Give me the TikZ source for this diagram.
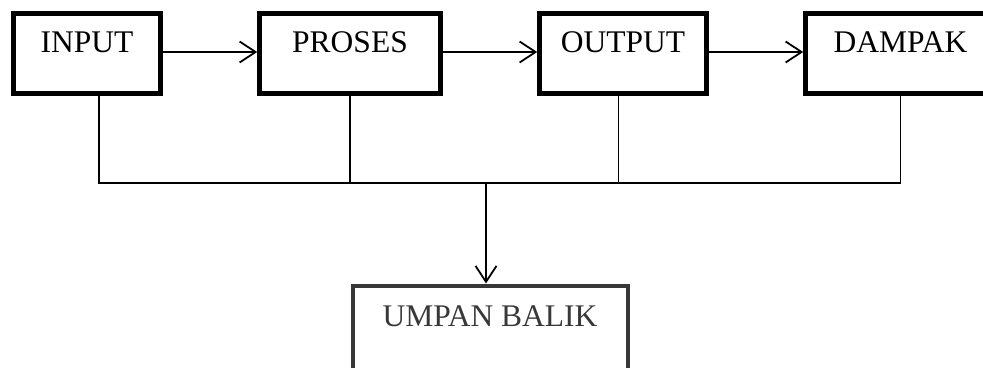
\documentclass[tikz,border=0pt]{standalone}
\usepackage{fontspec}
\setmainfont{Liberation Serif}
\usetikzlibrary{arrows.meta}
\definecolor{abutua}{HTML}{383838}

\begin{document}
\begin{tikzpicture}[x=1pt, y=-1pt, every node/.style={font=\fontsize{31.5}{38}\selectfont},
  blok/.style={draw, line width=4.5pt, inner sep=0pt, text height=38.5pt, text depth=41.5pt, anchor=base},
  garis/.style={line width=1.8pt},
  panah/.style={garis, -{Straight Barb[length=16pt,width=21pt]}}]
\useasboundingbox (0,0) rectangle (983,367);
\clip (0,0) rectangle (983,367);
\node[blok, minimum width=147pt] (inp) at (87,52) {INPUT};
\node[blok, minimum width=181pt] (pro) at (350,52) {PROSES};
\node[blok, minimum width=167pt] (out) at (623,52) {OUTPUT};
\node[blok, minimum width=190pt] (dam) at (900.5,52) {DAMPAK};
\node[blok, draw=abutua, text=abutua, line width=4pt, minimum width=275pt, text height=40.5pt, text depth=44pt] (ub) at (490,326) {UMPAN BALIK};
\draw[panah] (inp.base east) -- (pro.base west); \draw[panah] (pro.base east) -- (out.base west); \draw[panah] (out.base east) -- (dam.base west);
% garis umpan balik
\coordinate (bus) at (486,183);
\draw[garis] ([xshift=12pt]inp.south) |- (bus) -| (dam.south);
\draw[garis] (pro.south) |- (bus); \draw[garis] ([xshift=-4.5pt]out.south) |- (bus);
\draw[panah] (bus) -- (bus |- ub.north);
\end{tikzpicture}
\end{document}
